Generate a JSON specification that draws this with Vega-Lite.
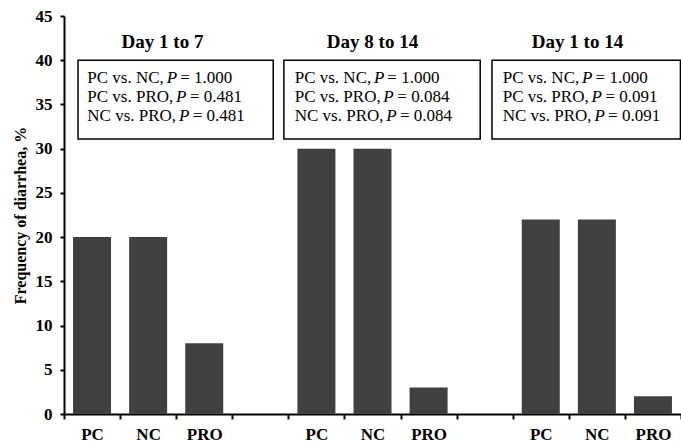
{
  "$schema": "https://vega.github.io/schema/vega-lite/v6.json",
  "width": 617,
  "height": 398,
  "autosize": {"type": "none"},
  "padding": {"left": 64, "top": 16, "right": 0, "bottom": 32},
  "background": "white",
  "config": {
    "view": {"stroke": null},
    "font": "Liberation Serif",
    "axis": {
      "domainColor": "black",
      "domainWidth": 2,
      "tickColor": "black",
      "tickWidth": 2,
      "labelFont": "Liberation Serif",
      "labelFontWeight": "bold",
      "labelFontSize": 17,
      "labelColor": "black",
      "titleFont": "Liberation Serif",
      "titleFontWeight": "bold",
      "titleFontSize": 16,
      "titleColor": "black",
      "grid": false
    }
  },
  "encoding": {
    "x": {
      "type": "quantitative",
      "scale": {"domain": [0, 11], "nice": false, "zero": false, "padding": 0},
      "axis": {
        "title": null,
        "values": [0, 0.5, 1, 1.5, 2, 2.5, 3, 3.5, 4, 4.5, 5, 5.5, 6, 6.5, 7, 7.5, 8, 8.5, 9, 9.5, 10, 10.5, 11],
        "tickSize": 5,
        "tickOpacity": {"condition": {"test": "datum.value % 1 !== 0", "value": 0}, "value": 1},
        "labelPadding": 7,
        "labelOverlap": false,
        "labelFlush": false,
        "labelBound": false,
        "labelExpr": "datum.value % 1 === 0 ? '' : ['PC','NC','PRO','','PC','NC','PRO','','PC','NC','PRO'][floor(datum.value)]"
      }
    },
    "y": {
      "type": "quantitative",
      "scale": {"domain": [0, 45], "nice": false, "padding": 0},
      "axis": {
        "title": "Frequency of diarrhea, %",
        "values": [0, 5, 10, 15, 20, 25, 30, 35, 40, 45],
        "tickSize": 4,
        "labelPadding": 8,
        "titlePadding": 7
      }
    }
  },
  "layer": [
    {
      "data": {"values": [
        {"pos": 0.5, "period": "Day 1 to 7", "group": "PC", "freq": 20},
        {"pos": 1.5, "period": "Day 1 to 7", "group": "NC", "freq": 20},
        {"pos": 2.5, "period": "Day 1 to 7", "group": "PRO", "freq": 8},
        {"pos": 4.5, "period": "Day 8 to 14", "group": "PC", "freq": 30},
        {"pos": 5.5, "period": "Day 8 to 14", "group": "NC", "freq": 30},
        {"pos": 6.5, "period": "Day 8 to 14", "group": "PRO", "freq": 3},
        {"pos": 8.5, "period": "Day 1 to 14", "group": "PC", "freq": 22},
        {"pos": 9.5, "period": "Day 1 to 14", "group": "NC", "freq": 22},
        {"pos": 10.5, "period": "Day 1 to 14", "group": "PRO", "freq": 2}
      ]},
      "mark": {"type": "bar", "color": "#404040", "width": 38},
      "encoding": {
        "x": {"field": "pos"},
        "y": {"field": "freq"}
      }
    },
    {
      "data": {"values": [
        {"x1": 0.25, "x2": 3.73, "y1": 31.1, "y2": 40},
        {"x1": 3.92, "x2": 7.42, "y1": 31.1, "y2": 40},
        {"x1": 7.63, "x2": 10.99, "y1": 31.1, "y2": 40}
      ]},
      "mark": {"type": "rect", "fill": "white", "stroke": "black", "strokeWidth": 1.5},
      "encoding": {
        "x": {"field": "x1"},
        "x2": {"field": "x2"},
        "y": {"field": "y1"},
        "y2": {"field": "y2"}
      }
    },
    {
      "data": {"values": [
        {"px": 1.756, "py": 41.35, "label": "Day 1 to 7"},
        {"px": 5.5, "py": 41.35, "label": "Day 8 to 14"},
        {"px": 9.155, "py": 41.35, "label": "Day 1 to 14"}
      ]},
      "mark": {"type": "text", "font": "Liberation Serif", "fontWeight": "bold", "fontSize": 19, "align": "center", "baseline": "alphabetic", "color": "black"},
      "encoding": {
        "x": {"field": "px"},
        "y": {"field": "py"},
        "text": {"field": "label"}
      }
    },
    {
      "data": {"values": [
        {"px": 0.4154, "py": 37.39, "t": "PC vs. NC,"},
        {"px": 2.0717, "py": 37.39, "t": "= 1.000"},
        {"px": 0.4154, "py": 35.28, "t": "PC vs. PRO,"},
        {"px": 2.2464, "py": 35.28, "t": "= 0.481"},
        {"px": 0.4154, "py": 33.16, "t": "NC vs. PRO,"},
        {"px": 2.2945, "py": 33.16, "t": "= 0.481"},
        {"px": 4.113, "py": 37.39, "t": "PC vs. NC,"},
        {"px": 5.7639, "py": 37.39, "t": "= 1.000"},
        {"px": 4.113, "py": 35.28, "t": "PC vs. PRO,"},
        {"px": 5.9421, "py": 35.28, "t": "= 0.084"},
        {"px": 4.113, "py": 33.16, "t": "NC vs. PRO,"},
        {"px": 5.9903, "py": 33.16, "t": "= 0.084"},
        {"px": 7.8212, "py": 37.39, "t": "PC vs. NC,"},
        {"px": 9.4777, "py": 37.39, "t": "= 1.000"},
        {"px": 7.8212, "py": 35.28, "t": "PC vs. PRO,"},
        {"px": 9.6524, "py": 35.28, "t": "= 0.091"},
        {"px": 7.8212, "py": 33.16, "t": "NC vs. PRO,"},
        {"px": 9.7006, "py": 33.16, "t": "= 0.091"}
      ]},
      "mark": {"type": "text", "font": "Liberation Serif", "fontSize": 17, "align": "left", "baseline": "alphabetic", "color": "black"},
      "encoding": {
        "x": {"field": "px"},
        "y": {"field": "py"},
        "text": {"field": "t"}
      }
    },
    {
      "data": {"values": [
        {"px": 1.831, "py": 37.39, "t": "P"},
        {"px": 1.9968, "py": 35.28, "t": "P"},
        {"px": 2.0502, "py": 33.16, "t": "P"},
        {"px": 5.5268, "py": 37.39, "t": "P"},
        {"px": 5.6925, "py": 35.28, "t": "P"},
        {"px": 5.746, "py": 33.16, "t": "P"},
        {"px": 9.237, "py": 37.39, "t": "P"},
        {"px": 9.4028, "py": 35.28, "t": "P"},
        {"px": 9.4561, "py": 33.16, "t": "P"}
      ]},
      "mark": {"type": "text", "font": "Liberation Serif", "fontSize": 17, "fontStyle": "italic", "align": "left", "baseline": "alphabetic", "color": "black"},
      "encoding": {
        "x": {"field": "px"},
        "y": {"field": "py"},
        "text": {"field": "t"}
      }
    }
  ]
}
